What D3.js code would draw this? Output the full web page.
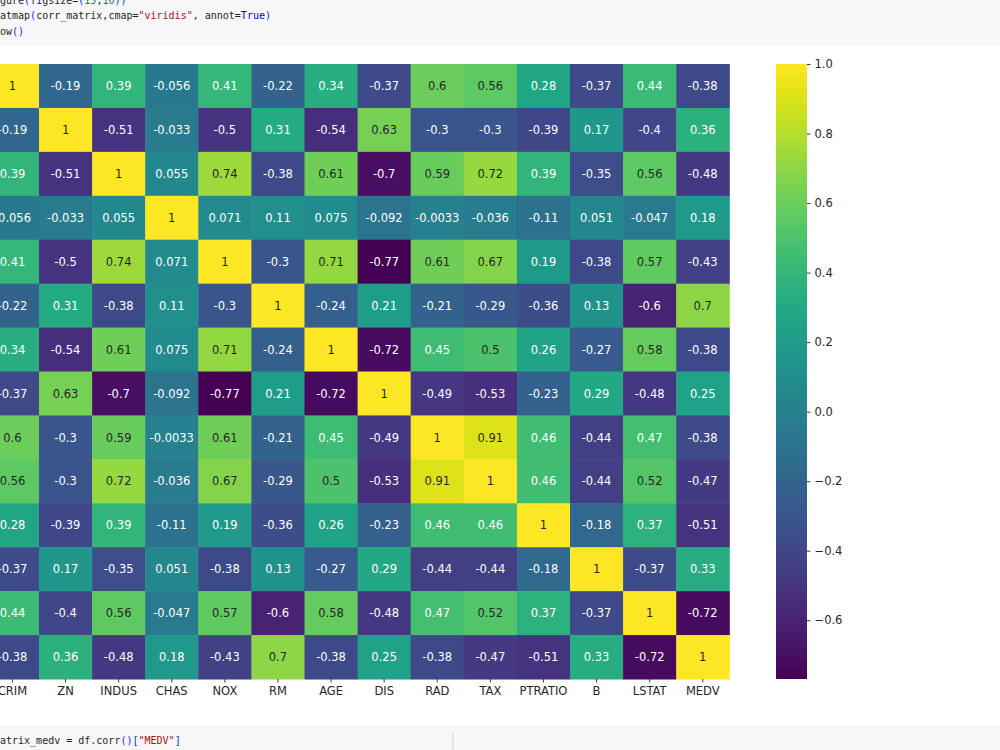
<!DOCTYPE html>
<html>
<head>
<meta charset="utf-8">
<script src="https://cdn.jsdelivr.net/npm/d3@7"></script>
<style>
  body { margin: 0; background: #fff; }
  svg { display: block; }
  .code { font-family: "DejaVu Sans Mono", monospace; font-size: 10px; }
  .tick text { font-family: "DejaVu Sans", sans-serif; font-size: 11.5px; fill: #262626; }
</style>
</head>
<body>
<svg id="chart"></svg>
<script>
// Données : matrice de corrélation (valeurs affichées)
const columns = ["CRIM", "ZN", "INDUS", "CHAS", "NOX", "RM", "AGE", "DIS", "RAD", "TAX", "PTRATIO", "B", "LSTAT", "MEDV"];

const rowCRIM    = [1, -0.19, 0.39, -0.056, 0.41, -0.22, 0.34, -0.37, 0.6, 0.56, 0.28, -0.37, 0.44, -0.38];
const rowZN      = [-0.19, 1, -0.51, -0.033, -0.5, 0.31, -0.54, 0.63, -0.3, -0.3, -0.39, 0.17, -0.4, 0.36];
const rowINDUS   = [0.39, -0.51, 1, 0.055, 0.74, -0.38, 0.61, -0.7, 0.59, 0.72, 0.39, -0.35, 0.56, -0.48];
const rowCHAS    = [-0.056, -0.033, 0.055, 1, 0.071, 0.11, 0.075, -0.092, -0.0033, -0.036, -0.11, 0.051, -0.047, 0.18];
const rowNOX     = [0.41, -0.5, 0.74, 0.071, 1, -0.3, 0.71, -0.77, 0.61, 0.67, 0.19, -0.38, 0.57, -0.43];
const rowRM      = [-0.22, 0.31, -0.38, 0.11, -0.3, 1, -0.24, 0.21, -0.21, -0.29, -0.36, 0.13, -0.6, 0.7];
const rowAGE     = [0.34, -0.54, 0.61, 0.075, 0.71, -0.24, 1, -0.72, 0.45, 0.5, 0.26, -0.27, 0.58, -0.38];
const rowDIS     = [-0.37, 0.63, -0.7, -0.092, -0.77, 0.21, -0.72, 1, -0.49, -0.53, -0.23, 0.29, -0.48, 0.25];
const rowRAD     = [0.6, -0.3, 0.59, -0.0033, 0.61, -0.21, 0.45, -0.49, 1, 0.91, 0.46, -0.44, 0.47, -0.38];
const rowTAX     = [0.56, -0.3, 0.72, -0.036, 0.67, -0.29, 0.5, -0.53, 0.91, 1, 0.46, -0.44, 0.52, -0.47];
const rowPTRATIO = [0.28, -0.39, 0.39, -0.11, 0.19, -0.36, 0.26, -0.23, 0.46, 0.46, 1, -0.18, 0.37, -0.51];
const rowB       = [-0.37, 0.17, -0.35, 0.051, -0.38, 0.13, -0.27, 0.29, -0.44, -0.44, -0.18, 1, -0.37, 0.33];
const rowLSTAT   = [0.44, -0.4, 0.56, -0.047, 0.57, -0.6, 0.58, -0.48, 0.47, 0.52, 0.37, -0.37, 1, -0.72];
const rowMEDV    = [-0.38, 0.36, -0.48, 0.18, -0.43, 0.7, -0.38, 0.25, -0.38, -0.47, -0.51, 0.33, -0.72, 1];

const matrixRows = [rowCRIM, rowZN, rowINDUS, rowCHAS, rowNOX, rowRM, rowAGE, rowDIS, rowRAD, rowTAX, rowPTRATIO, rowB, rowLSTAT, rowMEDV];

const colorMin = -0.769;
const colorMax = 1.0;
const colorbarTicks = [-0.6, -0.4, -0.2, 0.0, 0.2, 0.4, 0.6, 0.8, 1.0];

// Dimensions
const width = 1000, height = 750;
const cellW = 53.1, cellH = 43.93;
const heatLeft = -14.1, heatTop = 64;
const heatRight = heatLeft + cellW * columns.length;
const heatBottom = heatTop + cellH * columns.length;
const cbar = { x: 776, width: 31, top: 64, bottom: 679 };

const svg = d3.select("#chart").attr("width", width).attr("height", height);

// Cellules de code du notebook
svg.append("rect").attr("x", 0).attr("y", 0).attr("width", width).attr("height", 45).attr("fill", "#f7f7f7");
svg.append("rect").attr("x", 0).attr("y", 725).attr("width", width).attr("height", 25).attr("fill", "#f7f7f7");
svg.append("line").attr("x1", 453).attr("x2", 453).attr("y1", 733).attr("y2", 750).attr("stroke", "#d0d0d0");

function codeLine(y, parts) {
    const t = svg.append("text").attr("class", "code").attr("x", 0).attr("y", y);
    parts.forEach(([txt, col]) => t.append("tspan").attr("fill", col).text(txt));
}
const cBlack = "#1f1f1f", cParen = "#0431fa", cStr = "#a31515", cKw = "#0000ff", cNum = "#098658";
codeLine(3.5, [["gure", cBlack], ["(", cParen], ["figsize", cBlack], ["=", cBlack], ["(", cParen], ["15", cNum], [",", cBlack], ["10", cNum], [")", cParen], [")", cParen]]);
codeLine(19, [["atmap", cBlack], ["(", cParen], ["corr_matrix,cmap=", cBlack], ["\"viridis\"", cStr], [", annot=", cBlack], ["True", cKw], [")", cParen]]);
codeLine(34.5, [["ow", cBlack], ["()", cParen]]);
codeLine(744, [["atrix_medv = df.corr", cBlack], ["()", cParen], ["[", cParen], ["\"MEDV\"", cStr], ["]", cParen]]);

// Échelles
const x = d3.scaleBand().domain(columns).range([heatLeft, heatRight]);
const y = d3.scaleBand().domain(columns).range([heatTop, heatBottom]);
const color = d3.scaleSequential(d3.interpolateViridis).domain([colorMin, colorMax]);

// Luminance relative (règle de seaborn pour la couleur du texte)
function luminance(c) {
    const rgb = d3.rgb(c);
    const lin = v => { v /= 255; return v <= 0.03928 ? v / 12.92 : Math.pow((v + 0.055) / 1.055, 2.4); };
    return 0.2126 * lin(rgb.r) + 0.7152 * lin(rgb.g) + 0.0722 * lin(rgb.b);
}

const cells = [];
matrixRows.forEach((row, i) => row.forEach((v, j) => cells.push({ row: columns[i], col: columns[j], value: v })));

const heat = svg.append("g");
heat.selectAll("rect")
    .data(cells)
    .join("rect")
    .attr("x", d => x(d.col))
    .attr("y", d => y(d.row))
    .attr("width", x.bandwidth() + 0.5)
    .attr("height", y.bandwidth() + 0.5)
    .attr("fill", d => color(d.value));

heat.selectAll("text")
    .data(cells)
    .join("text")
    .attr("x", d => x(d.col) + x.bandwidth() / 2)
    .attr("y", d => y(d.row) + y.bandwidth() / 2)
    .attr("dy", "0.36em")
    .attr("text-anchor", "middle")
    .attr("font-family", "DejaVu Sans, sans-serif")
    .attr("font-size", "11.5px")
    .attr("fill", d => luminance(color(d.value)) > 0.408 ? "#262626" : "#ffffff")
    .text(d => String(+d.value.toPrecision(2)));

// Axe X
const xAxis = svg.append("g")
    .attr("transform", `translate(0, ${heatBottom})`)
    .call(d3.axisBottom(x).tickSize(3.5).tickPadding(4));
xAxis.select(".domain").remove();
xAxis.selectAll(".tick line").attr("stroke", "#262626").attr("stroke-width", 0.9);

// Barre de couleur
const defs = svg.append("defs");
const grad = defs.append("linearGradient").attr("id", "cbarGrad")
    .attr("x1", "0").attr("y1", "1").attr("x2", "0").attr("y2", "0");
d3.range(0, 1.0001, 0.02).forEach(t => {
    grad.append("stop").attr("offset", t).attr("stop-color", d3.interpolateViridis(t));
});
svg.append("rect")
    .attr("x", cbar.x).attr("y", cbar.top)
    .attr("width", cbar.width).attr("height", cbar.bottom - cbar.top)
    .attr("fill", "url(#cbarGrad)");

const cbScale = d3.scaleLinear().domain([colorMin, colorMax]).range([cbar.bottom, cbar.top]);
const cbAxis = svg.append("g")
    .attr("transform", `translate(${cbar.x + cbar.width}, 0)`)
    .call(d3.axisRight(cbScale).tickValues(colorbarTicks).tickSize(3.5).tickPadding(4)
        .tickFormat(d => d3.format(".1f")(d).replace("-", "\u2212")));
cbAxis.select(".domain").remove();
cbAxis.selectAll(".tick line").attr("stroke", "#262626").attr("stroke-width", 0.9);
</script>
</body>
</html>
